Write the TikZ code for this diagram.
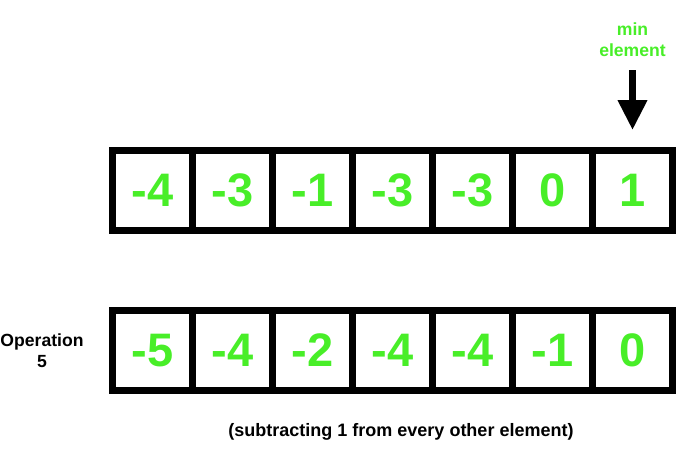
\documentclass[tikz,border=0pt]{standalone}
\usepackage{fontspec}
\setmainfont{Liberation Sans}
\usetikzlibrary{arrows.meta}
\definecolor{numgreen}{RGB}{72,238,40}
\begin{document}
\begin{tikzpicture}[x=1pt,y=-1pt,
        cell/.style={draw, line width=7pt, minimum width=80pt, minimum height=80pt, inner sep=0pt,
            font=\fontsize{47}{50}\selectfont\bfseries, text=numgreen},
        lbl/.style={font=\fontsize{17.6}{21}\selectfont\bfseries, align=center}]
        \useasboundingbox (0,0) rectangle (676,471);
        \foreach \v [count=\j] in {-4,-3,-1,-3,-3,0,1} {
            \node[cell] (t\j) at (72.5+80*\j, 190.5) {\v};
            }
        \foreach \v [count=\j] in {-5,-4,-2,-4,-4,-1,0} {
            \node[cell] (b\j) at (72.5+80*\j, 350.5) {\v};
            }
        \node[lbl, text=numgreen] (minlbl) at (632.5, 40) {min\\element};
        \coordinate (arrtop) at (632.5, 70);
        \draw[line width=7pt, -{Triangle[width=28pt,length=30pt]}, shorten >=17pt] (arrtop) -- (t7.north);
        \node[lbl] (oplbl) at (42, 351) {Operation\\5};
        \node[lbl, font=\fontsize{18}{21}\selectfont\bfseries] (note) at (401, 432) {(subtracting 1 from every other element)};
    \end{tikzpicture}
\end{document}
